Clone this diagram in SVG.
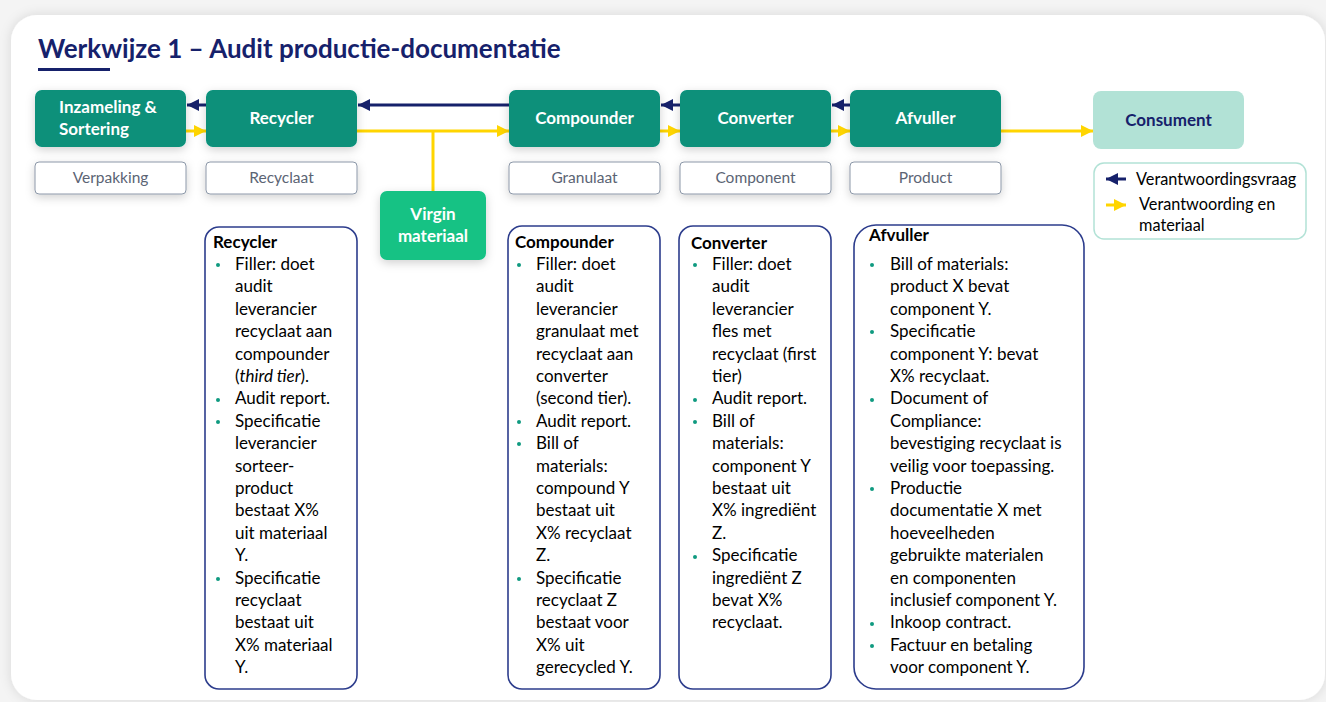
<svg xmlns="http://www.w3.org/2000/svg" width="1326" height="702" viewBox="0 0 1326 702">
  <defs>
    <filter id="cardShadow" x="-5%" y="-5%" width="110%" height="110%">
      <feDropShadow dx="0" dy="0" stdDeviation="6" flood-color="#000" flood-opacity="0.12"/>
    </filter>
    <filter id="shadow" x="-20%" y="-30%" width="140%" height="170%">
      <feDropShadow dx="0" dy="3" stdDeviation="5" flood-color="#000" flood-opacity="0.18"/>
    </filter>
    <marker id="navyHead" markerUnits="userSpaceOnUse" markerWidth="14" markerHeight="12" refX="12" refY="6" orient="auto">
      <path d="M0,0 L12,6 L0,12 Z" fill="#16216b"/>
    </marker>
    <marker id="yellowHead" markerUnits="userSpaceOnUse" markerWidth="14" markerHeight="12" refX="12" refY="6" orient="auto">
      <path d="M0,0 L12,6 L0,12 Z" fill="#ffd500"/>
    </marker>
    <style>
      .font { font-family: Lato, "Liberation Sans", sans-serif; }
      .node { fill: #07907a; }
      .nodeText { font-family: Lato, "Liberation Sans", sans-serif; font-weight: bold; font-size: 17px; fill: #ffffff; }
      .label { fill: #ffffff; stroke: #8c97a8; stroke-width: 1; }
      .labelText { font-family: Lato, "Liberation Sans", sans-serif; font-size: 15.5px; fill: #5b6474; text-anchor: middle; }
      .info { fill: #ffffff; stroke: #2c3c8c; stroke-width: 1.6; }
      .infoHead { font-family: Lato, "Liberation Sans", sans-serif; font-weight: bold; font-size: 17px; fill: #000000; }
      .infoText { font-family: Lato, "Liberation Sans", sans-serif; font-size: 17px; fill: #000000; }
      .legendText { font-family: Lato, "Liberation Sans", sans-serif; font-size: 16.3px; fill: #000000; }
      .bullet { fill: #0f9a80; }
      .navy { stroke: #16216b; stroke-width: 3; fill: none; marker-end: url(#navyHead); }
      .yellow { stroke: #ffd500; stroke-width: 3; fill: none; marker-end: url(#yellowHead); }
      .yellowLine { stroke: #ffd500; stroke-width: 3; fill: none; }
    </style>
  </defs>

  <rect x="0" y="0" width="1326" height="702" fill="#f4f4f4"/>
  <rect x="11" y="15" width="1314" height="685" rx="26" fill="#ffffff" filter="url(#cardShadow)"/>

  <g id="title">
    <text x="38" y="58" class="font" font-size="26" font-weight="bold" fill="#16216b">Werkwijze 1 – Audit productie-documentatie</text>
    <rect x="38" y="68" width="72" height="3" fill="#16216b"/>
  </g>

  <g id="connectors">
    <line class="navy" x1="206" y1="105" x2="187" y2="105"/>
    <line class="navy" x1="509" y1="105" x2="358" y2="105"/>
    <line class="navy" x1="680" y1="105" x2="661" y2="105"/>
    <line class="navy" x1="850" y1="105" x2="832" y2="105"/>
    <line class="yellow" x1="186" y1="131" x2="206" y2="131"/>
    <line class="yellow" x1="357" y1="131" x2="509" y2="131"/>
    <line class="yellow" x1="660" y1="131" x2="680" y2="131"/>
    <line class="yellow" x1="831" y1="131" x2="850" y2="131"/>
    <line class="yellow" x1="1001" y1="131" x2="1093" y2="131"/>
    <line class="yellowLine" x1="433" y1="131" x2="433" y2="191"/>
  </g>

  <g id="node-inzameling">
    <rect class="node" x="35" y="90" width="151" height="57" rx="7" filter="url(#shadow)"/>
    <text class="nodeText" x="59" y="113">Inzameling &amp;</text>
    <text class="nodeText" x="59" y="135">Sortering</text>
  </g>
  <g id="node-recycler">
    <rect class="node" x="206" y="90" width="151" height="57" rx="7" filter="url(#shadow)"/>
    <text class="nodeText" x="281.5" y="124" text-anchor="middle">Recycler</text>
  </g>
  <g id="node-compounder">
    <rect class="node" x="509" y="90" width="151" height="57" rx="7" filter="url(#shadow)"/>
    <text class="nodeText" x="584.5" y="124" text-anchor="middle">Compounder</text>
  </g>
  <g id="node-converter">
    <rect class="node" x="680" y="90" width="151" height="57" rx="7" filter="url(#shadow)"/>
    <text class="nodeText" x="755.5" y="124" text-anchor="middle">Converter</text>
  </g>
  <g id="node-afvuller">
    <rect class="node" x="850" y="90" width="151" height="57" rx="7" filter="url(#shadow)"/>
    <text class="nodeText" x="925.5" y="124" text-anchor="middle">Afvuller</text>
  </g>
  <g id="node-consument">
    <rect x="1093" y="91" width="151" height="58" rx="8" fill="#b2e2d6"/>
    <text class="nodeText" x="1168.5" y="126" text-anchor="middle" style="fill:#16216b">Consument</text>
  </g>
  <g id="node-virgin">
    <rect x="380" y="191" width="106" height="69" rx="7" fill="#13c284" filter="url(#shadow)"/>
    <text class="nodeText" x="433" y="220" text-anchor="middle">Virgin</text>
    <text class="nodeText" x="433" y="242" text-anchor="middle">materiaal</text>
  </g>

  <g id="label-verpakking">
    <rect class="label" x="35" y="162" width="151" height="32" rx="4" filter="url(#shadow)"/>
    <text class="labelText" x="110.5" y="183">Verpakking</text>
  </g>
  <g id="label-recyclaat">
    <rect class="label" x="206" y="162" width="151" height="32" rx="4" filter="url(#shadow)"/>
    <text class="labelText" x="281.5" y="183">Recyclaat</text>
  </g>
  <g id="label-granulaat">
    <rect class="label" x="509" y="162" width="151" height="32" rx="4" filter="url(#shadow)"/>
    <text class="labelText" x="584.5" y="183">Granulaat</text>
  </g>
  <g id="label-component">
    <rect class="label" x="680" y="162" width="151" height="32" rx="4" filter="url(#shadow)"/>
    <text class="labelText" x="755.5" y="183">Component</text>
  </g>
  <g id="label-product">
    <rect class="label" x="850" y="162" width="151" height="32" rx="4" filter="url(#shadow)"/>
    <text class="labelText" x="925.5" y="183">Product</text>
  </g>

  <g id="legend">
    <rect x="1094" y="163" width="212" height="76" rx="10" fill="#ffffff" stroke="#b2e2d6" stroke-width="1.5"/>
    <line x1="1126" y1="179" x2="1106" y2="179" stroke="#16216b" stroke-width="3" marker-end="url(#navyHead)"/>
    <text class="legendText" x="1136" y="185">Verantwoordingsvraag</text>
    <line x1="1106" y1="205" x2="1126" y2="205" stroke="#ffd500" stroke-width="3" marker-end="url(#yellowHead)"/>
    <text class="legendText" x="1139" y="210">Verantwoording en</text>
    <text class="legendText" x="1139" y="231">materiaal</text>
  </g>

  <g id="info-recycler">
    <rect class="info" x="205" y="227" width="152" height="462" rx="14"/>
    <text class="infoHead" x="213" y="248">Recycler</text>
    <circle class="bullet" cx="218" cy="265" r="2"/>
    <circle class="bullet" cx="218" cy="400" r="2"/>
    <circle class="bullet" cx="218" cy="422" r="2"/>
    <circle class="bullet" cx="218" cy="579" r="2"/>
    <text class="infoText">
      <tspan x="235" y="270">Filler: doet</tspan>
      <tspan x="235" dy="22.4">audit</tspan>
      <tspan x="235" dy="22.4">leverancier</tspan>
      <tspan x="235" dy="22.4">recyclaat aan</tspan>
      <tspan x="235" dy="22.4">compounder</tspan>
      <tspan x="235" dy="22.4">(<tspan font-style="italic">third tier</tspan>).</tspan>
      <tspan x="235" dy="22.4">Audit report.</tspan>
      <tspan x="235" dy="22.4">Specificatie</tspan>
      <tspan x="235" dy="22.4">leverancier</tspan>
      <tspan x="235" dy="22.4">sorteer-</tspan>
      <tspan x="235" dy="22.4">product</tspan>
      <tspan x="235" dy="22.4">bestaat X%</tspan>
      <tspan x="235" dy="22.4">uit materiaal</tspan>
      <tspan x="235" dy="22.4">Y.</tspan>
      <tspan x="235" dy="22.4">Specificatie</tspan>
      <tspan x="235" dy="22.4">recyclaat</tspan>
      <tspan x="235" dy="22.4">bestaat uit</tspan>
      <tspan x="235" dy="22.4">X% materiaal</tspan>
      <tspan x="235" dy="22.4">Y.</tspan>
    </text>
  </g>

  <g id="info-compounder">
    <rect class="info" x="508" y="226" width="152" height="463" rx="14"/>
    <text class="infoHead" x="515" y="248">Compounder</text>
    <circle class="bullet" cx="519" cy="265" r="2"/>
    <circle class="bullet" cx="519" cy="422" r="2"/>
    <circle class="bullet" cx="519" cy="444" r="2"/>
    <circle class="bullet" cx="519" cy="579" r="2"/>
    <text class="infoText">
      <tspan x="536" y="270">Filler: doet</tspan>
      <tspan x="536" dy="22.4">audit</tspan>
      <tspan x="536" dy="22.4">leverancier</tspan>
      <tspan x="536" dy="22.4">granulaat met</tspan>
      <tspan x="536" dy="22.4">recyclaat aan</tspan>
      <tspan x="536" dy="22.4">converter</tspan>
      <tspan x="536" dy="22.4">(second tier).</tspan>
      <tspan x="536" dy="22.4">Audit report.</tspan>
      <tspan x="536" dy="22.4">Bill of</tspan>
      <tspan x="536" dy="22.4">materials:</tspan>
      <tspan x="536" dy="22.4">compound Y</tspan>
      <tspan x="536" dy="22.4">bestaat uit</tspan>
      <tspan x="536" dy="22.4">X% recyclaat</tspan>
      <tspan x="536" dy="22.4">Z.</tspan>
      <tspan x="536" dy="22.4">Specificatie</tspan>
      <tspan x="536" dy="22.4">recyclaat Z</tspan>
      <tspan x="536" dy="22.4">bestaat voor</tspan>
      <tspan x="536" dy="22.4">X% uit</tspan>
      <tspan x="536" dy="22.4">gerecycled Y.</tspan>
    </text>
  </g>

  <g id="info-converter">
    <rect class="info" x="679" y="226" width="152" height="463" rx="14"/>
    <text class="infoHead" x="691" y="249">Converter</text>
    <circle class="bullet" cx="695" cy="265" r="2"/>
    <circle class="bullet" cx="695" cy="400" r="2"/>
    <circle class="bullet" cx="695" cy="422" r="2"/>
    <circle class="bullet" cx="695" cy="557" r="2"/>
    <text class="infoText">
      <tspan x="712" y="270">Filler: doet</tspan>
      <tspan x="712" dy="22.4">audit</tspan>
      <tspan x="712" dy="22.4">leverancier</tspan>
      <tspan x="712" dy="22.4">fles met</tspan>
      <tspan x="712" dy="22.4">recyclaat (first</tspan>
      <tspan x="712" dy="22.4">tier)</tspan>
      <tspan x="712" dy="22.4">Audit report.</tspan>
      <tspan x="712" dy="22.4">Bill of</tspan>
      <tspan x="712" dy="22.4">materials:</tspan>
      <tspan x="712" dy="22.4">component Y</tspan>
      <tspan x="712" dy="22.4">bestaat uit</tspan>
      <tspan x="712" dy="22.4">X% ingrediënt</tspan>
      <tspan x="712" dy="22.4">Z.</tspan>
      <tspan x="712" dy="22.4">Specificatie</tspan>
      <tspan x="712" dy="22.4">ingrediënt Z</tspan>
      <tspan x="712" dy="22.4">bevat X%</tspan>
      <tspan x="712" dy="22.4">recyclaat.</tspan>
    </text>
  </g>

  <g id="info-afvuller">
    <rect class="info" x="854" y="225" width="230" height="464" rx="22"/>
    <text class="infoHead" x="869" y="241">Afvuller</text>
    <circle class="bullet" cx="872" cy="265" r="2"/>
    <circle class="bullet" cx="872" cy="332" r="2"/>
    <circle class="bullet" cx="872" cy="400" r="2"/>
    <circle class="bullet" cx="872" cy="489" r="2"/>
    <circle class="bullet" cx="872" cy="624" r="2"/>
    <circle class="bullet" cx="872" cy="646" r="2"/>
    <text class="infoText">
      <tspan x="890" y="270">Bill of materials:</tspan>
      <tspan x="890" dy="22.4">product X bevat</tspan>
      <tspan x="890" dy="22.4">component Y.</tspan>
      <tspan x="890" dy="22.4">Specificatie</tspan>
      <tspan x="890" dy="22.4">component Y: bevat</tspan>
      <tspan x="890" dy="22.4">X% recyclaat.</tspan>
      <tspan x="890" dy="22.4">Document of</tspan>
      <tspan x="890" dy="22.4">Compliance:</tspan>
      <tspan x="890" dy="22.4">bevestiging recyclaat is</tspan>
      <tspan x="890" dy="22.4">veilig voor toepassing.</tspan>
      <tspan x="890" dy="22.4">Productie</tspan>
      <tspan x="890" dy="22.4">documentatie X met</tspan>
      <tspan x="890" dy="22.4">hoeveelheden</tspan>
      <tspan x="890" dy="22.4">gebruikte materialen</tspan>
      <tspan x="890" dy="22.4">en componenten</tspan>
      <tspan x="890" dy="22.4">inclusief component Y.</tspan>
      <tspan x="890" dy="22.4">Inkoop contract.</tspan>
      <tspan x="890" dy="22.4">Factuur en betaling</tspan>
      <tspan x="890" dy="22.4">voor component Y.</tspan>
    </text>
  </g>
</svg>
